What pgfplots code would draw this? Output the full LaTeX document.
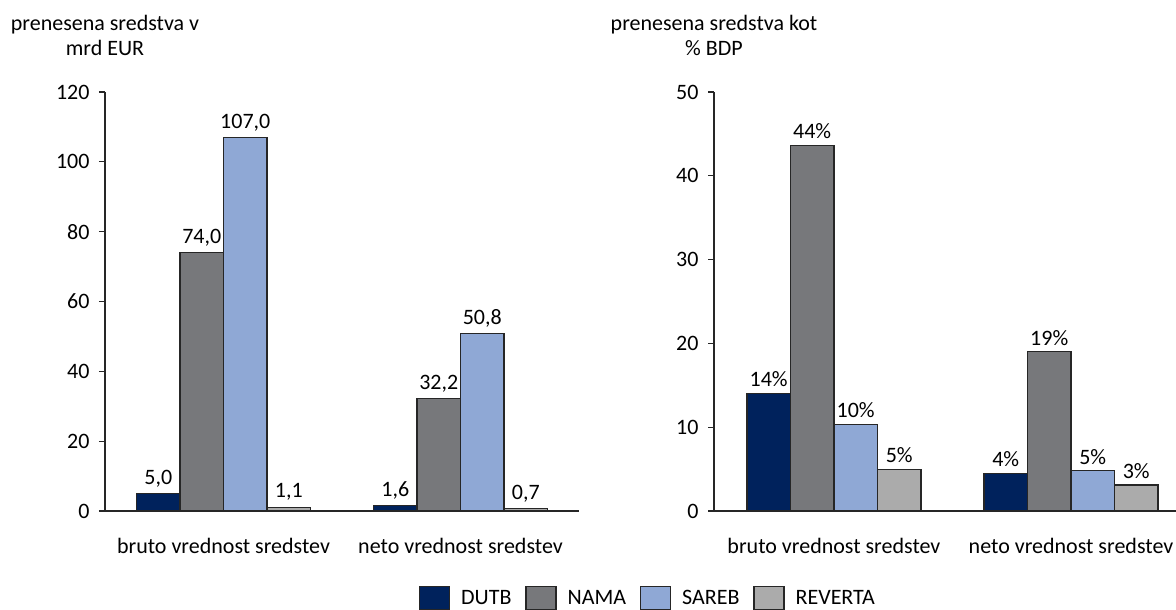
\documentclass[border=0pt]{standalone}
\usepackage{pgfplots}
\pgfplotsset{compat=1.18}
\usepackage{fontspec}
\setmainfont{Carlito}
\definecolor{cDUTB}{RGB}{0,34,92}
\definecolor{cNAMA}{RGB}{119,120,123}
\definecolor{cSAREB}{RGB}{143,168,213}
\definecolor{cREV}{RGB}{171,171,171}
\newcommand{\ff}{\fontsize{22}{25}\selectfont}
\pgfplotsset{
  common/.style={
    scale only axis,
    anchor=south west,
    height=419pt,
    ybar=0pt,
    bar width=43.5pt,
    ymin=0,
    axis x line=bottom,
    axis y line=left,
    axis line style={-, line width=1.2pt, black!85},
    tick align=outside,
    major tick length=6pt,
    ytick style={line width=1.2pt, black!85},
    xtick style={draw=none},
    xtick={0,1},
    xticklabels={bruto vrednost sredstev, neto vrednost sredstev},
    font=\ff,
    tick label style={font=\ff},
    /pgf/number format/assume math mode=true,
    xticklabel style={yshift=-18pt},
    yticklabel style={xshift=-6pt},
    point meta=explicit symbolic,
    nodes near coords,
    nodes near coords style={font=\ff, anchor=south, inner sep=2pt, yshift=4pt, text=black},
    every axis plot/.append style={draw=black!85, line width=1.1pt},
    clip=false,
  }
}
\begin{document}
\begin{tikzpicture}
\useasboundingbox (0,0) rectangle (1176pt,610pt);
\begin{axis}[common,
  at={(105pt,99pt)}, width=474pt,
  xmin=-0.5, xmax=1.5,
  ymax=120, ytick={0,20,...,120},
  legend columns=4,
  legend style={at={(1.1456,-0.2076)}, anchor=center, draw=none, fill=none, font=\ff,
    /tikz/every odd column/.append style={column sep=9pt},
    /tikz/every even column/.append style={column sep=12pt}},
  legend image code/.code={\draw[#1, line width=1.1pt] (0pt,-11pt) rectangle (30pt,12pt);},
]
\addplot[fill=cDUTB] coordinates {(0,5.0) [{5,0}] (1,1.6) [{1,6}]};
\addplot[fill=cNAMA] coordinates {(0,74.0) [{74,0}] (1,32.2) [{32,2}]};
\addplot[fill=cSAREB] coordinates {(0,107.0) [{107,0}] (1,50.8) [{50,8}]};
\addplot[fill=cREV] coordinates {(0,1.1) [{1,1}] (1,0.7) [{0,7}]};
\legend{DUTB, NAMA, SAREB, REVERTA}
\end{axis}
\begin{axis}[common,
  at={(714pt,99pt)}, width=462pt,
  xmin=-0.506, xmax=1.443,
  ymax=50, ytick={0,10,...,50},
]
\addplot[fill=cDUTB] coordinates {(0,14.0) [14\%] (1,4.5) [4\%]};
\addplot[fill=cNAMA] coordinates {(0,43.6) [44\%] (1,19.0) [19\%]};
\addplot[fill=cSAREB] coordinates {(0,10.3) [10\%] (1,4.8) [5\%]};
\addplot[fill=cREV] coordinates {(0,5.0) [5\%] (1,3.1) [3\%]};
\end{axis}
\node[font=\ff, align=center, anchor=south] at (105pt,551pt) {prenesena sredstva v\\mrd EUR};
\node[font=\ff, align=center, anchor=south] at (714pt,551pt) {prenesena sredstva kot\\\% BDP};
\end{tikzpicture}
\end{document}
